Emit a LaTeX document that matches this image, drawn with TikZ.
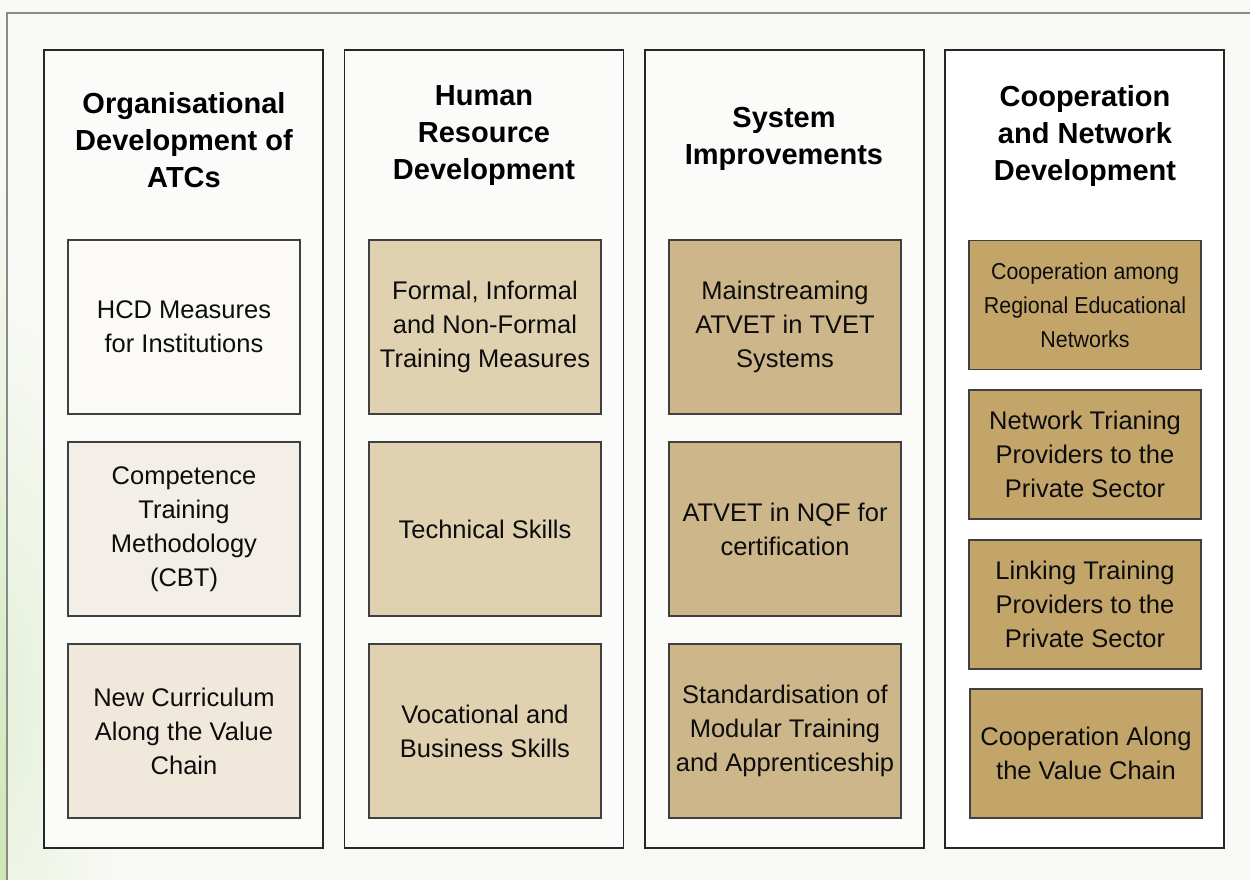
\documentclass[tikz,border=0pt]{standalone}
\usepackage{fontspec}
\setmainfont{Liberation Sans}
\usetikzlibrary{fadings}
\definecolor{bgc}{HTML}{F8F9F5}
\definecolor{greenedge}{HTML}{CDE7B6}
\definecolor{greensoft}{HTML}{E6F1DA}
\definecolor{framec}{HTML}{8A8A8A}
\definecolor{colfill}{HTML}{FBFBF9}
\definecolor{cA}{HTML}{FBFAF6}
\definecolor{cB}{HTML}{F3EFE8}
\definecolor{cC}{HTML}{F0E8DA}
\definecolor{cD}{HTML}{E0D2B1}
\definecolor{cE}{HTML}{CDB78A}
\definecolor{cF}{HTML}{C3A56A}
\tikzfading[name=softedge, inner color=transparent!0, outer color=transparent!100]
\tikzset{
  colbox/.style={draw=black!85, line width=1.2pt, fill=colfill, minimum width=279pt, minimum height=798pt, inner sep=0pt},
  coltitle/.style={align=center, font=\fontsize{29}{37}\selectfont\bfseries, text=black},
  itembox/.style={draw=black!75, line width=1.1pt, minimum width=232pt, align=center, inner sep=0pt, font=\fontsize{25.5}{34}\selectfont, text=black!95},
  tall/.style={minimum height=174pt},
  short/.style={minimum height=129pt},
}
\begin{document}
\begin{tikzpicture}[x=1pt,y=-1pt]
\useasboundingbox (0,0) rectangle (1250,880);
\fill[bgc] (0,0) rectangle (1250,880);
\fill[greensoft, path fading=softedge, fit fading=true] (0,700) ellipse [x radius=120, y radius=380];
\shade[top color=bgc, bottom color=greenedge] (0,150) rectangle (7,880);
\draw[framec, line width=1.2pt] (7,880) -- (7,13) -- (1250,13);
% columns
\node[colbox] (c1) at (183.5,449) {};
\node[colbox] (c2) at (484,449) {};
\node[colbox] (c3) at (784.5,449) {};
\node[colbox, fill=white] (c4) at (1084.5,449) {};
% titles
\node[coltitle] (t1) at (184,140) {Organisational\\Development of\\ATCs};
\node[coltitle] (t2) at (484,136) {Human\\Resource\\Development};
\node[coltitle] (t3) at (784,139) {System\\Improvements};
\node[coltitle] (t4) at (1085,136) {Cooperation\\and Network\\Development};
% column 1
\node[itembox, tall, fill=cA] (a1) at (184,327) {HCD Measures\\for Institutions};
\node[itembox, tall, fill=cB] (a2) at (184,529) {Competence\\Training\\Methodology\\(CBT)};
\node[itembox, tall, fill=cC] (a3) at (184,731) {New Curriculum\\Along the Value\\Chain};
% column 2
\node[itembox, tall, fill=cD] (b1) at (485,327) {Formal, Informal\\and Non-Formal\\Training Measures};
\node[itembox, tall, fill=cD] (b2) at (485,529) {Technical Skills};
\node[itembox, tall, fill=cD] (b3) at (485,731) {Vocational and\\Business Skills};
% column 3
\node[itembox, tall, fill=cE] (d1) at (785,327) {Mainstreaming\\ATVET in TVET\\Systems};
\node[itembox, tall, fill=cE] (d2) at (785,529) {ATVET in NQF for\\certification};
\node[itembox, tall, fill=cE] (d3) at (785,731) {Standardisation of\\Modular Training\\and Apprenticeship};
% column 4
\node[itembox, short, fill=cF, font=\fontsize{23}{34}\selectfont] (e1) at (1085,305) {\scalebox{0.93}[1]{Cooperation among}\\\scalebox{0.93}[1]{Regional Educational}\\\scalebox{0.93}[1]{Networks}};
\node[itembox, short, fill=cF] (e2) at (1085,454.5) {Network Trianing\\Providers to the\\Private Sector};
\node[itembox, short, fill=cF] (e3) at (1085,604.5) {Linking Training\\Providers to the\\Private Sector};
\node[itembox, short, fill=cF] (e4) at (1086,753.5) {Cooperation Along\\the Value Chain};
\end{tikzpicture}
\end{document}
